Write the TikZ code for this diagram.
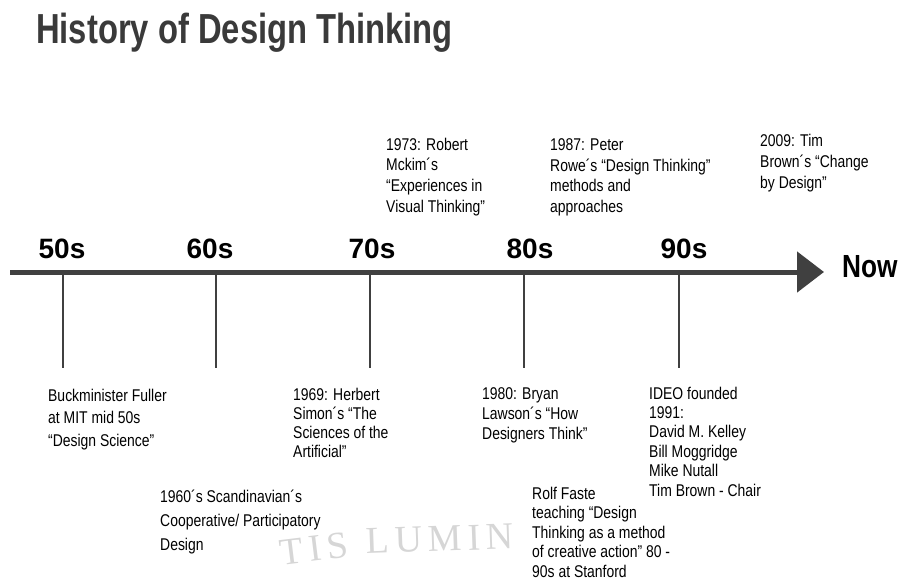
\documentclass[tikz,border=0pt]{standalone}
\usepackage{fontspec}
\setmainfont{Liberation Sans}
\newfontfamily\narrowfont[FakeStretch=0.82]{Liberation Sans}
\newfontfamily\titlefont[FakeStretch=0.78]{Liberation Sans}
\newfontfamily\markfont[LetterSpace=15]{Liberation Serif}
\usepackage{tikz}
\usetikzlibrary{arrows.meta,positioning}
\definecolor{axisgray}{HTML}{404040}
\definecolor{titlegray}{HTML}{3A3A3A}
\tikzstyle{entry} = [anchor=north west,inner sep=0pt,align=left,font=\narrowfont\fontsize{17}{#1}\selectfont]
\tikzstyle{decade} = [anchor=base,inner sep=0pt,font=\bfseries\fontsize{28}{28}\selectfont]
\tikzstyle{tick} = [draw=axisgray,line width=2.4pt]
\tikzstyle{watermark} = [inner sep=0pt,text=black!16,font=\markfont\fontsize{38}{38}\selectfont]
\tikzset{entry/.default=20.5}

\begin{document}
\begin{tikzpicture}[x=1pt,y=-1pt]
    \useasboundingbox (0,0) rectangle (901,581);

    \node [anchor=base west,inner sep=0pt,text=titlegray,font=\titlefont\bfseries\fontsize{42}{42}\selectfont] (title) at (36,43) {History of Design Thinking};

    % faint watermark
    \node [watermark,rotate=7] (mark1) at (314,549) {TIS};
    \node [watermark,rotate=2] (mark2) at (440,539) {LUMIN};

    % time line
    \coordinate (start) at (10,272);
    \coordinate (tip) at (824,272);
    \draw [axisgray,line width=5pt,-{Triangle[length=27pt,width=40pt]}] (start) -- (tip);
    \node [anchor=base west,inner sep=0pt,font=\narrowfont\bfseries\fontsize{32}{32}\selectfont] (now) at (842,277) {Now};

    \foreach \x/\d in {63/50,216/60,370/70,524/80,679/90} {
      \coordinate (t\d) at (\x,272);
      \coordinate (b\d) at (\x,368);
      \draw [tick] (t\d) -- (b\d);
    }
    \node [decade] (d50) at (62,258) {50s};
    \node [decade] (d60) at (210,258) {60s};
    \node [decade] (d70) at (372,258) {70s};
    \node [decade] (d80) at (530,258) {80s};
    \node [decade] (d90) at (684,258) {90s};

    % above the line
    \node [entry=20.7] (mckim) at (386,137.5) {1973: Robert\\Mckim´s\\“Experiences in\\Visual Thinking”};
    \node [entry=20.7] (rowe) at (550,138.5) {1987: Peter\\Rowe´s “Design Thinking”\\methods and\\approaches};
    \node [entry=21] (brown) at (760,133.5) {2009: Tim\\Brown´s “Change\\by Design”};

    % below the line
    \node [entry=22.5] (fuller) at (48,388.5) {Buckminister Fuller\\at MIT mid 50s\\“Design Science”};
    \node [entry=24] (scandi) at (160,489.5) {1960´s Scandinavian´s\\Cooperative/ Participatory\\Design};
    \node [entry=19] (simon) at (293,387.5) {1969: Herbert\\Simon´s “The\\Sciences of the\\Artificial”};
    \node [entry=20] (lawson) at (482,387.5) {1980: Bryan\\Lawson´s “How\\Designers Think”};
    \node [entry=19.5] (faste) at (532,486.5) {Rolf Faste\\teaching “Design\\Thinking as a method\\of creative action” 80 -\\90s at Stanford};
    \node [entry=19.4] (ideo) at (649,386.5) {IDEO founded\\1991:\\David M. Kelley\\Bill Moggridge\\Mike Nutall\\Tim Brown - Chair};
\end{tikzpicture}
\end{document}
